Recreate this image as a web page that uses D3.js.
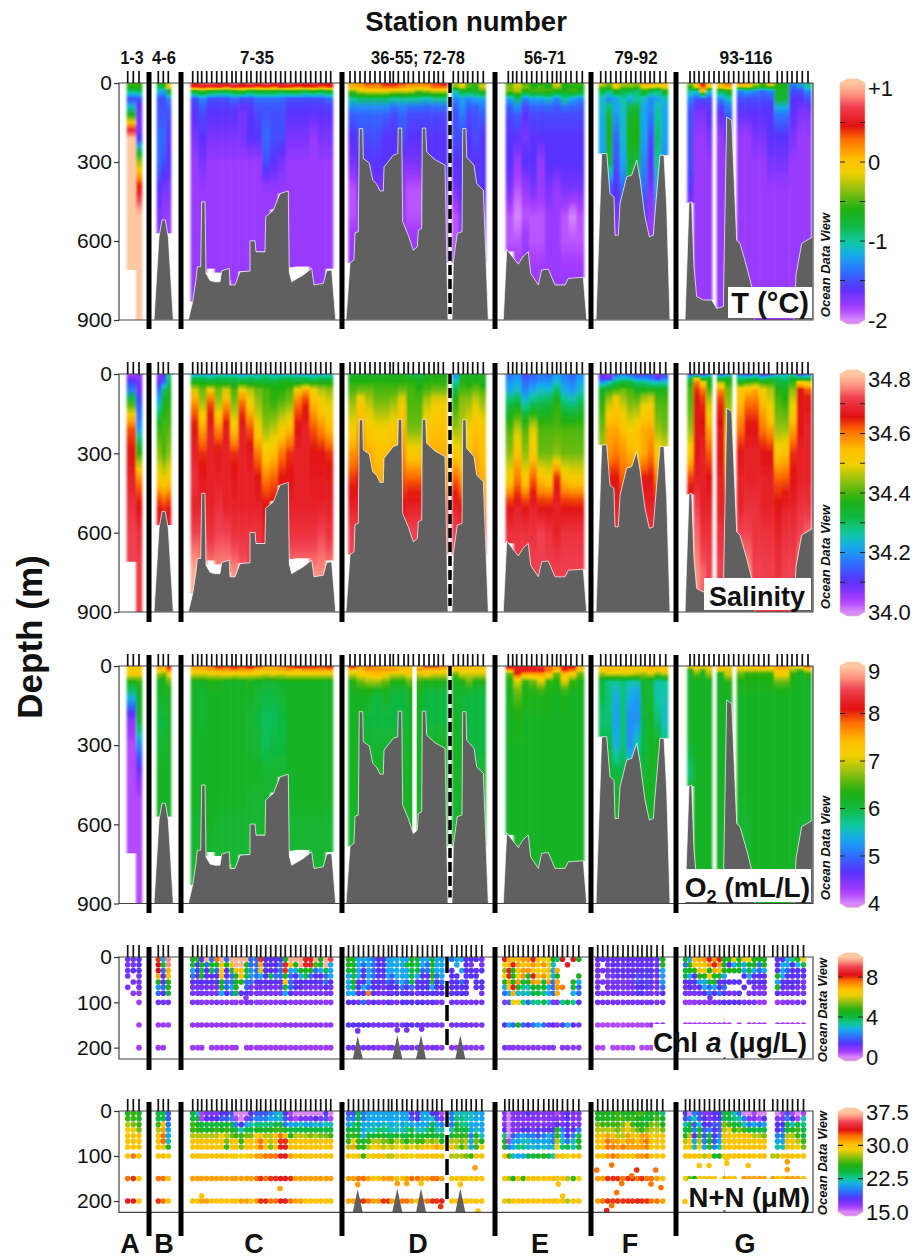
<!DOCTYPE html>
<html>
<head>
<meta charset="utf-8">
<script src="https://cdn.jsdelivr.net/npm/d3@7"></script>
<style>
  html, body { margin: 0; padding: 0; background: #fff; }
  svg { display: block; }
  text { font-family: "Liberation Sans", Arial, sans-serif; fill: #111; }
</style>
</head>
<body>
<svg id="chart"></svg>
<script>
const _ = null; // no sample at this place

// along-track distance of the stations, per section
const stationsA = [8.7,14.3,20];
const stationsB = [39.3,44.3,49.3];
const stationsC = [73.7,78.7,82.7,87.7,92.7,97.7,102.7,107.7,113,117,122.3,127.7,132,137.7,141.7,146.7,151.7,156.7,161.7,166.3,171.7,176.7,181.7,186.7,191.7,196.7,201.7,207,211.7];
const stationsD1 = [231,236,241,246,251,256,261,266,271,274.3,279.3,285,289.3,294.3,300,305,310,315,319.3,324.3];
const stationsD2 = [334.3,339.3,344.3,348.7,353.7,358.7,364.3];
const stationsE = [389.3,393.7,397.7,402.7,407.7,412.7,417.7,422.7,428.3,433.3,437.7,441.7,447,452,457.7,463.3];
const stationsF = [481.7,486.7,491.7,497,501.7,507,512,516.7,521.7,526,531,535.3,541,546.7];
const stationsG = [571,575.3,580,585,590,595,600,605,609.7,614.7,619.7,624.7,629.7,634.7,639.7,645,649.7,658.3,663,668.3,673,678,683.3,689];

const sectionLetters = ['A','B','C','D','E','F','G'];
const letterDist = [11,45,135,299,421,511,626];
const stationLabels = ['1-3','4-6','7-35','36-55; 72-78','56-71','79-92','93-116'];
const stationLabelDist = [13,45,138,299,426,517,627];
const stationLabelWidth = [23,24,34,94,42,43,53];
const separators = [30,62,223,376,472,557];
const dashedDist = 331;

// depth levels of the gridded profile tables (rows of the tables below)
const fieldDepths = [0,15,30,60,100,200,300,400,500,600,750];

// Temperature, tenths of a degree C
const tempA = [[-5,-5],[-6,-6],[-9,-8],[-15,-15],[-10,-17],[10,-17],[10,-3],[10,5],[10,10],[10,10],[10,10]];
const tempB = [[-6,-7,0],[-8,-8,-1],[-11,-12,-6],[-15,-15,-13],[-15,-15,-15],[-14,-14,-16],[-14,-15,-16],[-16,-17,-17],[-17,-18,-18],[-18,-18,-18],[-18,-18,-18]];
const tempC = [
 [5,7,8,6,7,8,6,8,7,8,7,6,8,7,6,7,6,5],
 [4,5,4,5,3,5,4,4,3,4,3,5,4,3,4,4,3,4],
 [-6,-5,-6,-7,-7,-6,-5,-7,-6,-6,-6,-7,-6,-6,-7,-6,-7,-6],
 [-15,-13,-15,-15,-15,-14,-15,-15,-14,-14,-14,-14,-15,-15,-15,-15,-15,-14],
 [-16,-15,-16,-16,-16,-16,-17,-16,-15,-15,-15,-15,-16,-16,-16,-16,-16,-16],
 [-17,-16,-17,-17,-17,-17,-17,-16,-16,-14,-15,-15,-17,-17,-17,-18,-17,-17],
 [-18,-17,-18,-18,-18,-18,-18,-18,-18,-15,-16,-17,-18,-18,-18,-18,-18,-18],
 [-18,-18,-18,-18,-18,-18,-18,-18,-18,-18,-18,-18,-18,-18,-18,-18,-18,-18],
 [-18,-18,-18,-18,-18,-18,-18,-18,-18,-18,-18,-18,-18,-18,-18,-18,-18,-18],
 [-18,-18,-18,-18,-18,-18,-18,-18,-18,-18,-18,-18,-18,-18,-18,-18,-18,-18],
 [-18,-18,-18,-18,-18,-18,-18,-18,-18,-18,-18,-18,-18,-18,-18,-18,-18,-18]];
const tempD1 = [
 [1,2,4,3,5,5,4,3,2,3,4,5],
 [1,1,2,2,3,3,2,1,1,1,3,3],
 [-4,-2,-1,-1,-1,-2,-2,-2,-4,-3,-2,-2],
 [-10,-9,-9,-9,-9,-10,-10,-10,-10,-11,-10,-10],
 [-14,-14,-14,-14,-14,-15,-14,-15,-15,-15,-15,-15],
 [-16,-15,-15,-15,-16,-16,-15,-16,-16,-16,-16,-16],
 [-17,-16,-16,-16,-16,-16,-17,-17,-17,-16,-16,-16],
 [-19,-17,-17,-17,-17,-17,-18,-19,-19,-18,-17,-17],
 [-19,-18,-18,-18,-18,-18,-18,-19,-19,-18,-18,-18],
 [-18,-18,-18,-18,-18,-18,-18,-18,-18,-18,-18,-18],
 [-18,-18,-18,-18,-18,-18,-18,-18,-18,-18,-18,-18]];
const tempD2 = [[-3,0,-5,-5,-3],[-4,-2,-5,-6,-2],[-10,-7,-7,-7,-5],[-13,-12,-13,-12,-12],[-15,-13,-15,-15,-14],[-15,-15,-16,-15,-16],[-16,-16,-16,-16,-16],[-17,-16,-16,-16,-16],[-19,-17,-17,-17,-17],[-19,-18,-18,-18,-18],[-18,-18,-18,-18,-18]];
const tempE = [
 [-5,-2,-5,-6,-6,-6,-1,-6,-5,-5],
 [-4,-2,-4,-6,-5,-6,-3,-6,-6,-6],
 [-4,-3,-6,-5,-5,-5,-6,-6,-5,-6],
 [-12,-9,-13,-12,-12,-11,-13,-10,-12,-13],
 [-15,-14,-16,-15,-15,-15,-15,-15,-15,-15],
 [-16,-16,-17,-16,-16,-16,-16,-16,-16,-16],
 [-16,-18,-16,-16,-18,-16,-16,-16,-16,-16],
 [-17,-19,-18,-17,-18,-17,-18,-17,-17,-17],
 [-19,-20,-19,-19,-19,-18,-18,-19,-20,-19],
 [-19,-19,-18,-19,-19,-18,-18,-19,-19,-19],
 [-18,-18,-18,-18,-18,-18,-18,-18,-18,-18]];
const tempF = [
 [-1,-4,0,-2,-3,-3,2,2,-1,0],
 [-4,-5,-1,-4,-4,-5,-1,-1,-2,-1],
 [-8,-9,-6,-8,-8,-9,-6,-8,-9,-6],
 [-11,-13,-12,-10,-12,-10,-11,-13,-12,-11],
 [-11,-8,-12,-11,-7,-7,-12,-13,-10,-12],
 [-12,-6,-14,-11,-6,-6,-12,-15,-9,-12],
 [-12,-8,-15,-12,-7,-8,-13,-16,-10,-13],
 [-12,-15,-16,-14,-8,-11,-14,-17,-12,-13],
 [-12,-17,-17,-15,-10,-12,-16,-18,-14,-13],
 [-12,-18,-18,-16,-12,-14,-17,-18,-15,-14],
 [-12,-18,-18,-16,-12,-14,-17,-18,-15,-14]];
const tempG1 = [[-3,1,6,0],[-6,-1,3,-1],[-10,-10,0,-10],[-13,-15,-15,-15],[-15,-17,-17,-16],[-15,-18,-18,-17],[-15,-18,-18,-18],[-16,-18,-18,-18],[-18,-18,-18,-18],[-18,-18,-18,-18],[-18,-18,-18,-18]];
const tempG2 = [[1,3],[0,1],[-8,-6],[-13,-11],[-16,-14],[-18,-16],[-18,-18],[-18,-18],[-18,-18],[-18,-18],[-18,-18]];
const tempG3 = [
 [3,2,-2,-5,1,-6,-6,-13,-12,-9],
 [-3,-2,-5,-6,-5,-6,-6,-14,-13,-10],
 [-13,-12,-13,-14,-13,-7,-7,-15,-15,-13],
 [-15,-15,-15,-15,-15,-7,-7,-16,-16,-15],
 [-16,-16,-16,-16,-16,-13,-13,-16,-17,-17],
 [-18,-18,-17,-17,-16,-16,-16,-17,-18,-18],
 [-18,-18,-18,-18,-17,-17,-17,-18,-18,-18],
 [-18,-18,-18,-18,-18,-18,-18,-18,-18,-18],
 [-18,-18,-18,-18,-18,-18,-18,-18,-18,-18],
 [-18,-18,-18,-18,-18,-18,-18,-18,-18,-18],
 [-18,-18,-18,-18,-18,-18,-18,-18,-18,-18]];

// Salinity, hundredths above 34
const salA = [[3,8],[8,6],[12,8],[18,8],[36,14],[62,20],[66,38],[68,60],[70,66],[72,70],[72,72]];
const salB = [[6,10,28],[8,12,28],[10,16,30],[16,30,34],[22,36,38],[38,40,40],[44,40,44],[52,50,52],[66,64,66],[68,68,68],[68,68,68]];
const salC = [
 [20,22,20,24,22,24,20,22,24,26,22,22,24,22,20,22,22,24],
 [30,30,28,30,30,30,28,30,28,30,28,30,30,30,30,28,30,30],
 [36,36,34,36,34,34,36,34,34,34,34,36,36,34,36,36,36,36],
 [48,42,50,42,48,40,50,46,42,40,38,38,40,50,56,50,46,44],
 [58,44,62,44,56,42,60,50,44,40,38,40,42,60,64,54,50,48],
 [66,56,68,58,67,52,68,62,50,44,46,50,54,66,68,62,58,54],
 [68,64,68,67,68,64,68,67,60,52,54,60,64,68,68,66,66,64],
 [70,67,68,68,68,67,68,68,66,60,62,66,66,68,68,67,67,67],
 [68,68,68,70,68,68,68,68,68,66,66,70,68,68,68,68,68,68],
 [72,72,70,72,72,70,70,70,70,68,68,72,70,70,70,70,72,70],
 [78,76,76,76,76,76,74,72,72,70,70,72,76,76,76,76,76,76]];
const salD1 = [
 [32,34,34,34,34,36,36,30,30,36,36,36],
 [36,36,36,36,36,36,38,36,34,36,38,38],
 [38,38,38,38,38,38,38,38,36,38,38,38],
 [40,42,42,40,40,40,42,40,38,40,42,42],
 [44,52,46,42,42,44,50,40,40,46,50,50],
 [50,56,52,50,50,52,55,42,42,52,54,54],
 [58,60,56,54,54,56,58,52,52,56,56,56],
 [64,66,60,56,56,60,62,62,62,60,60,60],
 [68,68,66,62,62,64,66,68,68,64,64,64],
 [72,70,68,66,66,68,68,72,72,68,68,68],
 [72,72,72,70,70,70,70,72,72,70,70,70]];
const salD2 = [[20,34,34,34,34],[22,36,36,36,36],[26,38,36,38,36],[32,40,40,42,40],[38,44,44,48,44],[44,46,50,54,52],[52,50,54,56,54],[62,58,56,58,56],[68,66,60,62,60],[72,70,66,66,66],[74,72,70,70,70]];
const salE = [
 [16,20,12,15,18,15,20,18,16,20],
 [18,20,14,16,18,18,22,18,16,20],
 [20,22,16,18,20,20,24,20,18,22],
 [22,24,18,22,24,24,30,22,20,24],
 [30,32,24,28,30,32,38,28,26,30],
 [40,46,40,48,40,40,40,40,40,40],
 [44,54,44,52,42,42,44,42,42,42],
 [52,60,52,62,54,52,66,54,52,52],
 [66,68,66,68,66,66,68,66,66,66],
 [70,70,70,70,72,70,68,70,70,70],
 [72,72,72,72,72,72,72,72,72,72]];
const salF = [
 [8,6,14,18,14,12,12,14,6,12],
 [10,8,22,24,22,18,18,16,10,16],
 [20,24,30,32,32,28,28,24,24,24],
 [34,38,40,42,40,36,36,38,36,36],
 [38,46,52,46,42,42,48,50,40,40],
 [42,56,56,54,50,52,56,56,44,42],
 [46,58,60,58,56,54,56,60,52,50],
 [50,66,66,62,60,58,66,66,60,56],
 [60,68,68,66,64,64,68,68,66,62],
 [68,70,70,70,68,68,70,70,70,68],
 [70,72,72,72,70,70,72,72,72,70]];
const salG1 = [[10,14,10,16],[30,48,30,34],[36,60,50,36],[40,64,60,40],[40,66,64,46],[44,66,66,56],[52,66,68,62],[64,68,68,66],[68,72,68,68],[70,74,70,70],[72,76,74,72]];
const salG2 = [[14,18],[30,34],[44,38],[58,42],[64,44],[66,48],[66,52],[68,60],[68,66],[70,68],[72,70]];
const salG3 = [
 [14,12,18,8,12,22,22,26,8,16],
 [28,28,30,26,30,30,28,32,30,30],
 [36,38,40,38,38,32,32,38,50,48],
 [52,54,56,50,46,38,36,44,66,62],
 [54,60,60,54,48,40,38,48,66,66],
 [60,66,66,60,56,44,44,56,66,68],
 [66,68,68,66,66,52,54,64,68,68],
 [68,68,68,68,68,62,62,66,68,68],
 [68,70,70,68,68,66,68,68,70,70],
 [72,72,70,70,70,68,70,70,72,74],
 [76,76,72,72,72,70,72,72,76,78]];

// Oxygen, tenths of a mL/L
const oxyA = [[72,72],[72,72],[72,72],[63,64],[57,62],[44,62],[42,52],[42,45],[42,42],[42,42],[42,42]];
const oxyB = [[76,74,82],[74,72,78],[68,66,72],[62,62,66],[62,62,62],[60,60,62],[61,61,62],[62,62,62],[62,62,62],[62,62,62],[62,62,62]];
const oxyC = [
 [76,76,78,82,80,82,80,84,80,76,76,78,80,84,82,82,80,82],
 [74,74,75,76,76,77,76,76,74,74,74,75,76,74,76,76,76,76],
 [70,70,71,71,72,71,72,71,71,70,71,70,71,71,71,71,71,71],
 [62,62,63,63,62,62,62,63,62,61,61,62,62,62,62,62,62,62],
 [62,61,62,62,62,62,62,62,61,60,60,61,62,62,62,62,62,62],
 [62,61,62,62,62,62,62,61,60,59,59,60,62,62,62,62,62,62],
 [62,62,62,62,62,62,62,61,61,59,60,60,62,62,62,62,62,62],
 [62,62,62,62,62,62,62,62,62,61,61,61,62,62,62,62,62,62],
 [62,62,62,62,62,62,62,61,61,61,61,62,62,62,62,62,62,62],
 [61,61,62,61,61,61,61,61,61,62,62,62,61,61,61,61,61,61],
 [61,61,61,61,61,61,61,61,61,62,62,62,61,61,61,61,61,61]];
const oxyD1 = [
 [82,76,78,76,74,74,74,74,74,80,80,76],
 [74,74,76,76,76,76,74,74,76,74,74,74],
 [70,72,73,74,73,70,70,72,70,72,70,70],
 [63,66,68,68,66,63,63,66,64,63,63,63],
 [62,62,62,60,62,60,60,62,62,60,60,60],
 [62,62,60,60,60,60,60,62,62,60,60,60],
 [62,62,61,61,61,61,61,62,62,62,62,62],
 [62,62,62,62,62,62,62,62,62,62,62,62],
 [62,62,62,62,62,62,62,62,62,62,62,62],
 [61,62,62,62,62,62,62,62,62,62,62,62],
 [61,62,62,62,62,62,62,62,62,62,62,62]];
const oxyD2 = [[74,74,74,74,74],[72,72,72,72,72],[66,70,70,70,70],[62,63,66,63,63],[61,61,60,60,60],[62,61,60,60,60],[62,62,60,60,60],[62,62,61,61,61],[61,62,62,62,62],[61,62,62,62,62],[61,62,62,62,62]];
const oxyE = [
 [84,82,82,82,84,78,76,82,82,74],
 [76,82,82,82,82,78,74,80,78,72],
 [66,80,76,76,76,74,66,74,72,66],
 [63,70,64,66,70,64,63,70,64,63],
 [62,66,63,63,63,63,62,63,62,62],
 [62,63,62,62,62,62,62,62,62,62],
 [62,62,62,62,62,62,62,62,62,62],
 [62,62,62,62,62,62,62,62,62,62],
 [62,62,62,62,62,62,62,62,62,62],
 [62,62,62,62,62,62,62,62,62,62],
 [62,62,62,62,62,62,62,62,62,62]];
const oxyF = [
 [73,74,74,74,74,72,72,76,74,72],
 [72,73,73,72,72,71,72,73,72,73],
 [68,70,70,70,70,69,68,70,67,69],
 [60,57,57,58,56,56,62,60,56,57],
 [60,58,54,58,54,53,62,61,56,56],
 [58,58,53,58,52,52,60,62,58,55],
 [60,60,54,58,52,56,60,62,62,58],
 [60,62,60,60,58,60,61,62,62,60],
 [60,62,62,62,62,62,62,62,62,60],
 [60,62,62,62,62,62,62,62,62,60],
 [60,62,62,62,62,62,62,62,62,60]];
const oxyG1 = [[72,74,72,74],[64,70,66,70],[62,66,62,68],[62,62,62,62],[62,62,62,62],[62,62,62,62],[61,62,62,62],[58,62,62,62],[62,62,62,62],[62,62,62,62],[62,62,62,62]];
const oxyG2 = [[74,72],[72,70],[62,70],[62,64],[62,62],[62,62],[62,62],[62,62],[62,62],[62,62],[62,62]];
const oxyG3 = [
 [74,72,74,78,74,76,76,72,74,80],
 [70,70,70,70,70,74,74,68,66,70],
 [66,64,64,64,64,72,72,64,62,64],
 [63,63,63,63,63,66,66,63,62,62],
 [62,62,62,62,62,62,62,62,62,62],
 [62,62,62,62,62,62,62,62,62,62],
 [62,62,62,62,62,62,62,62,62,62],
 [62,62,62,62,62,62,62,62,62,62],
 [62,62,62,62,62,62,62,62,62,62],
 [61,61,62,62,62,62,62,62,61,61],
 [61,61,62,62,62,62,62,62,61,61]];

// deepest sample of each gridded column, m
const bottomA = [710,900];
const bottomB = [571,571,571];
const bottomC = [830,720,705,720,750,767,715,714,640,640,480,420,700,697,697,767,767,705];
const bottomD1 = [683,683,683,683,683,683,683,640,635,683,683,683];
const bottomD2 = [683,683,683,683,683];
const bottomE = [640,770,770,770,770,770,770,770,770,740];
const bottomF = [268,590,590,590,590,590,590,590,590,274];
const bottomG1 = [455,824,824,824];
const bottomG2 = [856,856];
const bottomG3 = [900,900,900,900,900,900,900,900,900,900];

// seabed: [distance, depth]
const bathyB = [[35,900],[40,584],[43,520],[46.3,520],[49.3,584],[54.3,900]];
const bathyC = [[69.3,900],[73.7,830],[77,748],[78.3,698],[81.7,698],[82.7,451],[86,451],[87,723],[91,750],[96,755],[101,755],[102.7,713],[110.3,704],[111,767],[116,767],[121,717],[131,714],[131,599],[136,599],[137,641],[146,641],[146.7,508],[154.3,483],[161,420],[169.3,410],[170.3,719],[172.7,755],[184.3,729],[192.7,704],[195,767],[204.3,761],[207.7,713],[212.7,710],[216.7,900]];
const bathyD1 = [[227,900],[231,683],[235,672],[236,569],[239.3,565],[240.3,173],[243.7,173],[244.3,287],[250.3,303],[253.7,369],[257.7,384],[261,410],[264.3,410],[265,319],[274.3,274],[278.7,268],[279.3,171],[282.7,171],[283.7,527],[289.3,578],[294.3,635],[298.3,622],[299.3,559],[302.7,552],[303.3,171],[306.7,171],[307.7,262],[316,291],[326,312],[329,900]];
const bathyD2 = [[333,900],[334.3,679],[338.3,571],[343,565],[343.7,173],[347,173],[347.7,281],[355,312],[357.7,382],[364.3,407],[369.3,900]];
const bathyE = [[384.3,900],[387.7,632],[396,672],[399.3,688],[404.3,657],[409.3,641],[411.7,723],[419.3,767],[422.7,710],[429.3,707],[436,767],[446,767],[449.3,742],[464.3,738],[467.7,900]];
const bathyF = [[477,900],[482.7,268],[487.7,268],[491,420],[495,433],[496,578],[499.3,578],[501,458],[507.7,356],[512.7,350],[517.7,293],[521,363],[526,508],[530.3,584],[534.3,578],[536,495],[541,274],[545,274],[547.7,470],[551,900]];
const bathyG1 = [[566,900],[570,455],[572.7,451],[575,698],[577.7,811],[584.3,824],[592.7,824],[597.7,856],[604.3,849],[607.7,129],[612.7,142],[617.7,597],[621,609],[627.7,698],[632.7,773],[636,900]];
const bathyG2 = [[675,900],[677,729],[682.7,609],[693.7,584],[693.7,900]];

// shallow panels: seabed peaks reaching into the 0-225 m window [distance, depth]
const peakDist = [238.7,278.3,302,341.3];
const peakDepth = [174,172,172,172];
const spikeG = [[604.5,225],[605,125],[606.5,225]];

const oxyGaps = [[293.3,297.7]];

// bottle depths of the discrete panels (rows of the tables below)
const bottleDepths = [5,17,30,42,55,67,80,100,150,200];

// Chl a, tenths of a microgram per litre
const chlA = [[10,10,13],[10,10,13],[10,13,13],[10,_,10],[_,10,10],[10,_,10],[_,8,8],[_,_,6],[_,_,5],[_,_,5]];
const chlB = [[80,27,95],[82,40,95],[82,20,70],[70,13,68],[45,13,45],[25,20,45],[20,13,40],[10,10,10],[6,6,6],[6,6,_]];
const chlC = [
 [45,45,13,98,20,75,98,20,98,98,98,98,20,20,80,13,13,13,13,45,98,98,98,85,85,98,45,98,90],
 [40,13,45,20,45,40,68,45,60,98,98,45,20,20,70,13,13,13,20,85,68,45,98,85,85,50,40,98,27],
 [27,13,40,13,40,20,65,13,40,68,68,40,25,20,60,13,13,13,20,80,27,27,45,45,45,20,27,40,27],
 [20,13,45,13,13,13,68,13,20,45,68,40,25,20,27,13,40,20,20,45,20,13,27,40,20,13,13,20,27],
 [13,13,13,13,13,13,45,20,20,45,45,20,20,13,13,13,13,13,13,68,20,13,13,13,13,13,13,20,13],
 [10,10,10,10,10,10,45,20,27,45,_,20,10,10,10,10,10,10,10,40,20,13,13,10,10,10,10,13,10],
 [10,10,10,10,10,10,27,13,20,40,13,13,10,10,10,10,10,10,10,27,13,10,10,10,10,10,10,10,10],
 [10,10,8,8,8,10,8,8,8,8,8,10,10,8,8,8,8,8,8,10,8,8,8,8,8,8,8,8,8],
 [7,7,7,7,7,7,7,7,6,6,6,6,6,6,6,6,5,5,5,8,8,7,7,7,7,8,7,7,7],
 [6,6,6,_,6,6,6,6,6,6,_,6,6,6,6,6,6,6,6,6,6,6,6,6,6,6,6,6,6]];
const chlD1 = [
 [45,45,27,27,27,20,13,13,27,27,27,27,27,45,40,27,27,45,27,27],
 [45,45,27,20,27,20,13,13,27,27,27,27,40,45,40,27,20,45,27,27],
 [40,45,27,13,27,20,13,13,27,27,27,27,27,40,40,20,20,40,27,27],
 [27,40,27,13,27,20,13,13,27,20,27,27,27,40,27,13,13,45,20,27],
 [27,45,13,13,27,13,13,13,20,13,20,27,20,40,13,13,13,40,13,20],
 [27,40,13,27,20,13,13,10,13,13,13,20,13,20,13,13,13,27,13,13],
 [27,27,13,13,75,13,10,10,13,10,13,13,13,13,10,13,13,13,13,13],
 [13,13,10,20,10,13,10,10,13,10,10,13,13,13,13,13,10,13,10,10],
 [13,13,13,13,13,10,10,10,10,10,10,10,13,13,13,10,10,10,10,10],
 [10,10,10,10,10,10,8,8,8,10,10,10,10,10,10,8,8,10,10,8]];
const chlD2 = [[20,27,27,13,13,13,10],[_,27,_,13,10,_,10],[13,_,27,13,13,13,13],[13,13,_,13,13,13,_],[13,13,20,13,_,13,13],[13,13,13,13,_,13,13],[13,13,13,13,_,_,10],[10,10,10,10,10,10,10],[10,10,10,10,10,10,10],[8,8,8,8,8,8,8]];
const chlE = [
 [84,70,68,68,72,72,84,68,62,62,45,36,84,_,84,45],
 [62,68,84,70,68,68,72,68,72,62,30,_,_,84,_,_],
 [55,84,45,68,72,72,68,62,64,68,27,70,_,_,_,_],
 [62,84,45,62,72,40,84,68,72,62,27,45,_,_,_,45],
 [45,70,45,72,40,45,72,70,40,72,20,70,_,_,45,27],
 [27,62,84,45,35,30,45,40,45,27,20,72,75,_,40,20],
 [20,27,70,30,30,30,40,40,35,27,20,70,_,_,27,20],
 [8,20,62,62,35,20,35,35,40,30,10,10,35,40,35,13],
 [13,27,20,45,20,13,20,27,20,10,13,8,15,27,13,10],
 [10,8,8,8,8,8,8,8,8,8,8,_,8,8,8,8]];
const chlF = [
 [12,12,12,12,12,12,12,12,12,12,12,12,12,45],
 [10,_,10,12,12,12,12,12,12,12,12,12,12,45],
 [10,10,10,12,12,12,12,12,12,12,15,12,12,27],
 [10,_,10,10,12,12,12,12,17,12,15,12,12,25],
 [10,10,10,10,10,10,10,10,17,13,15,12,12,25],
 [10,_,10,10,10,10,10,10,13,13,15,10,10,20],
 [10,10,10,10,10,10,10,10,13,13,10,10,10,13],
 [10,10,10,10,10,10,10,10,10,10,10,10,10,10],
 [4,4,4,4,4,4,4,4,4,4,4,6,8,8],
 [4,4,_,4,4,4,4,4,_,4,4,4,_,_]];
const chlG = [
 [45,27,68,70,72,84,72,84,45,45,62,45,68,62,45,45,45,_,13,13,27,35,45,62],
 [20,45,68,62,68,72,84,72,45,13,27,40,27,45,45,20,45,_,13,27,27,13,27,40],
 [40,45,45,68,62,45,70,68,45,45,45,45,27,40,27,20,27,_,13,27,20,13,13,13],
 [40,27,13,45,45,62,45,45,27,_,_,_,13,27,13,13,13,_,45,27,13,13,13,13],
 [13,13,13,27,27,40,45,13,13,13,13,13,_,13,13,13,13,_,27,13,13,13,13,10],
 [10,13,10,13,27,20,27,13,20,_,_,_,13,_,10,10,10,_,45,13,10,13,10,10],
 [10,10,10,10,13,20,13,20,13,10,10,13,_,10,10,10,10,_,13,10,10,10,10,10],
 [6,6,8,8,8,8,10,10,13,13,13,13,10,10,10,6,6,_,6,8,8,8,10,10],
 [5,5,5,5,5,5,5,5,5,5,_,5,_,5,5,5,5,_,5,5,5,5,5,5],
 [_,_,_,_,_,_,_,_,_,_,_,_,_,_,_,_,_,_,_,_,_,_,_,_]];
const chlExtra = [[238.7,163,10],[278.3,161,10],[287.7,161,10],[302.7,159,10],[127,90,8],[591,90,10]];

// Nitrate + nitrite, micromolar
const nnA = [[25,26,25],[26,26,25],[28,27,26],[29,29,27],[30,30,30],[30,30,30],[30,30,30],[30,32,30],[32,33,30],[34,34,30]];
const nnB = [[24,24,19],[24,24,19],[26,30,20],[28,31,21],[30,32,21],[30,32,22],[30,30,25],[30,30,29],[32,32,30],[33,32,30]];
const nnC = [
 [24,22,16,17,17,17,18,18,19,15,15,15,18,19,19,19,20,21,22,18,16,15,15,15,15,15,15,18,15],
 [24,24,16,18,18,18,19,19,20,16,15,17,19,20,20,20,21,21,22,19,17,16,17,17,17,18,17,19,16],
 [26,25,24,24,24,24,24,24,24,20,18,21,22,23,23,23,23,24,24,20,21,21,22,21,21,22,21,22,22],
 [26,26,25,25,25,26,25,26,25,24,22,24,24,25,25,25,25,26,26,25,24,24,24,24,24,24,24,24,24],
 [28,28,28,28,28,28,29,28,27,26,26,27,27,29,30,28,28,30,32,30,25,28,28,28,27,28,27,27,26],
 [30,30,30,30,30,30,30,27,30,30,26,30,30,30,32,30,28,30,33,33,30,30,30,30,30,30,30,30,30],
 [30,30,30,30,30,30,30,26,30,30,27,30,30,30,32,30,27,30,34,34,30,30,30,30,30,30,30,30,30],
 [30,30,30,30,30,30,30,30,30,29,29,29,30,31,31,32,32,32,34,34,31,30,30,30,30,30,30,30,30],
 [31,31,31,31,31,31,31,31,31,31,31,31,31,32,33,32,33,33,34,34,33,31,31,31,31,31,31,31,31],
 [30,30,31,31,30,30,30,30,30,30,31,31,30,31,33,33,32,32,34,34,32,31,31,30,30,30,30,30,30]];
const nnD1 = [
 [19,19,24,20,21,21,21,21,21,21,21,21,21,18,18,21,21,18,18,16],
 [20,20,24,20,21,21,21,21,21,21,21,21,21,19,18,21,21,22,19,17],
 [21,23,24,21,21,22,21,22,22,21,22,21,22,21,21,21,21,24,21,20],
 [24,24,24,21,22,22,23,23,23,22,22,22,23,24,22,22,23,25,22,22],
 [25,26,25,21,25,24,25,25,24,24,25,24,24,25,25,24,25,25,24,24],
 [26,29,26,24,26,28,28,27,27,26,28,27,25,27,26,26,28,27,28,25],
 [28,31,26,25,28,29,30,28,29,28,29,29,28,29,28,30,30,30,31,30],
 [30,29,30,26,29,30,30,30,28,28,29,30,29,29,30,30,30,30,30,30],
 [31,31,32,32,31,30,30,31,31,31,30,30,31,32,32,31,31,32,32,31],
 [31,31,33,33,32,31,31,33,33,31,31,32,32,31,30,31,32,33,33,34]];
const nnD2 = [[20,22,22,22,22,21,21],[20,23,23,22,22,21,21],[20,24,23,23,21,21,21],[22,25,24,24,21,22,21],[24,26,25,26,20,25,22],[28,28,27,28,21,27,25],[30,28,26,28,21,26,29],[28,28,28,27,26,30,30],[30,30,30,30,30,30,30],[30,30,30,30,30,30,30]];
const nnE = [
 [17,15,17,17,17,18,17,17,17,17,17,16,17,18,17,17],
 [17,15,17,17,17,17,17,17,17,17,17,17,17,18,17,17],
 [17,15,17,17,17,17,17,17,17,17,17,18,17,18,17,17],
 [18,15,17,17,18,18,17,18,18,18,18,25,20,18,18,20],
 [23,15,19,20,21,20,20,19,20,21,20,26,21,18,20,24],
 [25,16,21,21,22,22,21,21,21,21,20,28,22,20,22,25],
 [25,20,21,23,23,21,22,21,22,21,22,29,23,24,22,25],
 [30,26,22,21,21,24,24,25,25,24,22,30,30,29,30,30],
 [30,28,25,30,26,30,30,30,30,30,30,30,30,28,26,29],
 [30,28,30,30,30,30,30,30,30,30,30,30,30,28,30,30]];
const nnF = [
 [25,25,25,25,26,25,25,25,26,26,25,25,25,23],
 [25,25,25,25,26,26,25,26,25,25,24,25,26,25],
 [27,26,26,26,26,27,29,26,25,25,25,27,27,25],
 [28,28,28,28,27,28,30,28,27,26,27,28,28,27],
 [30,30,31,30,28,28,31,30,29,31,31,29,30,30],
 [30,30,32,31,31,30,31,31,30,31,32,30,30,30],
 [30,30,32,32,31,32,31,31,31,31,32,29,30,30],
 [30,30,31,32,31,30,30,30,31,31,32,30,30,30],
 [31,31,33,33,33,32,33,33,32,33,32,32,31,30],
 [31,32,33,33,33,33,33,33,34,33,33,32,32,31]];
const nnG = [
 [18,15,20,19,17,17,18,18,24,24,22,20,15,15,16,15,15,_,15,16,19,16,15,16],
 [19,20,22,19,18,17,18,18,24,24,23,22,20,17,17,16,18,_,17,17,20,18,16,22],
 [22,24,19,22,18,18,19,19,27,26,24,24,22,20,21,20,21,_,18,18,24,22,24,23],
 [24,25,20,25,19,20,18,19,28,29,26,27,26,24,24,24,24,_,18,19,25,25,26,24],
 [25,28,18,26,19,24,18,20,30,30,29,30,30,30,28,28,27,_,20,20,28,28,26,24],
 [28,30,21,28,20,25,19,21,30,30,30,30,30,30,30,30,30,_,21,21,30,30,28,26],
 [29,30,22,29,21,26,20,22,30,30,30,30,30,30,30,30,30,_,22,22,30,30,29,27],
 [30,30,30,30,28,30,24,25,30,30,30,30,30,30,30,30,30,28,28,30,30,30,30,30],
 [29,27,25,30,30,30,30,_,30,30,30,_,31,31,31,31,31,31,30,30,31,31,31,30],
 [_,_,_,_,_,_,_,_,_,_,_,_,_,_,_,_,_,_,_,_,_,_,_,_]];
const nnExtra = [[82.7,189,30],[161,172,31],[356,126,31],[238.7,163,31],[278.3,161,31],[287.7,161,31],[302,161,30],[341.3,163,30],[321.7,212,33],[359,222,30],[439.3,162,30],[443.7,189,30],[477.7,131,32],[492.7,120,32],[517.7,131,33],[536.7,131,32],[502.7,161,32],[512.7,144,32],[532,162,32],[542,170,32],[497.7,181,32],[487.7,221,34],[492.7,210,32],[580.3,121,30],[590,121,30],[629.3,121,30],[668.3,113,31],[668.3,130,31],[566,201,30],[607.7,105,30],[607.7,116,30]];

// Colour bar stops, position 0..1 along the ODV palette
const paletteAt = [0,0.05,0.13,0.2,0.27,0.33,0.4,0.47,0.55,0.62,0.68,0.76,0.82,0.9,0.95,1];
const paletteColors = ['#d988ff','#a83cff','#5a30ff','#2f6cff','#18a8f0','#10c8a0','#10b840','#20b010','#90c010','#f0d000','#ffc000','#ff7000','#e01010','#f04050','#ff9080','#ffc8a0'];
const palette = d3.scaleLinear().domain(paletteAt).range(paletteColors).clamp(true);

const width = 918, height = 1258;
const svg = d3.select('#chart').attr('width', width).attr('height', height)
  .attr('viewBox', `0 0 ${width} ${height}`);
const defs = svg.append('defs');
defs.append('filter').attr('id', 'soft').attr('x', '-2%').attr('width', '104%')
  .append('feGaussianBlur').attr('stdDeviation', '1.3 0.4');
defs.append('filter').attr('id', 'softDots')
  .append('feGaussianBlur').attr('stdDeviation', '0.35');

const x = d3.scaleLinear().domain([0, 694]).range([119, 813]);

const fieldSections = [
  {start: 7.7, end: 23.3, edges: [7.7,17,23.3], bottom: bottomA, temp: tempA, sal: salA, oxy: oxyA},
  {start: 37.7, end: 52.3, bottom: bottomB, temp: tempB, sal: salB, oxy: oxyB},
  {start: 71.7, end: 214.3, bottom: bottomC, temp: tempC, sal: salC, oxy: oxyC},
  {start: 229.3, end: 328.7, bottom: bottomD1, temp: tempD1, sal: salD1, oxy: oxyD1},
  {start: 333, end: 367, bottom: bottomD2, temp: tempD2, sal: salD2, oxy: oxyD2},
  {start: 386.7, end: 465.3, bottom: bottomE, temp: tempE, sal: salE, oxy: oxyE},
  {start: 479.7, end: 549.3, bottom: bottomF, temp: tempF, sal: salF, oxy: oxyF},
  {start: 568.3, end: 593.3, bottom: bottomG1, temp: tempG1, sal: salG1, oxy: oxyG1},
  {start: 597.7, end: 613.3, bottom: bottomG2, temp: tempG2, sal: salG2, oxy: oxyG2},
  {start: 617.7, end: 692.7, bottom: bottomG3, temp: tempG3, sal: salG3, oxy: oxyG3}
];
const bathySections = [bathyB, bathyC, bathyD1, bathyD2, bathyE, bathyF, bathyG1, bathyG2];

const dotSections = [
  {stations: stationsA, shift: 0, chl: chlA, nn: nnA},
  {stations: stationsB, shift: 0, chl: chlB, nn: nnB},
  {stations: stationsC, shift: 0, chl: chlC, nn: nnC},
  {stations: stationsD1, shift: -1.5, chl: chlD1, nn: nnD1},
  {stations: stationsD2, shift: -1.5, chl: chlD2, nn: nnD2},
  {stations: stationsE, shift: -3.5, chl: chlE, nn: nnE},
  {stations: stationsF, shift: -3, chl: chlF, nn: nnF},
  {stations: stationsG, shift: -4.5, chl: chlG, nn: nnG}
];

// panel geometry
const fieldPanels = [
  {key: 'temp', top: 83, bottom: 320, barTop: 83, barBottom: 320, sepTop: 72, sepBottom: 329, domain: [-20,10], ovx: 825, ovy: 265,
   barMin: -2, barMax: 1, barTicks: [-1.5,-1,-0.5,0,0.5], labelVals: [1,0,-1,-2], labelText: ['+1','0','-1','-2'],
   box: [728,287,812,318]},
  {key: 'sal', top: 374, bottom: 612, barTop: 374, barBottom: 612, sepTop: 363, sepBottom: 622, domain: [0,80], ovx: 825, ovy: 557,
   barMin: 34, barMax: 34.8, barTicks: [34.1,34.2,34.3,34.4,34.5,34.6,34.7], labelVals: [34.8,34.6,34.4,34.2,34], labelText: ['34.8','34.6','34.4','34.2','34.0'],
   box: [704,578,811,610]},
  {key: 'oxy', top: 666, bottom: 903.5, barTop: 666, barBottom: 903.5, sepTop: 655, sepBottom: 913, domain: [40,90], ovx: 825, ovy: 848,
   barMin: 4, barMax: 9, barTicks: [5,6,7,8], labelVals: [9,8,7,6,5,4], labelText: ['9','8','7','6','5','4'],
   box: [685,869,811,902]}
];
const dotPanels = [
  {key: 'chl', top: 957, bottom: 1059, sepTop: 947, sepBottom: 1070, domain: [0,100], extra: chlExtra, ovx: 822, ovy: 1010,
   barTop: 957, barBottom: 1057, barMin: 0, barMax: 10, barTicks: [4,8], labelVals: [8,4,0], labelText: ['8','4','0'],
   box: [653,1024,812,1057]},
  {key: 'nn', top: 1111, bottom: 1212.3, sepTop: 1102, sepBottom: 1236, domain: [15,37.5], extra: nnExtra, ovx: 822, ovy: 1163,
   barTop: 1112, barBottom: 1212, barMin: 15, barMax: 37.5, barTicks: [22.5,30], labelVals: [37.5,30,22.5,15], labelText: ['37.5','30.0','22.5','15.0'],
   box: [688,1179,812,1210]}
];

const allStations = [].concat(stationsA, stationsB, stationsC, stationsD1, stationsD2, stationsE, stationsF, stationsG);
const line = d3.line().x(d => d[0]).y(d => d[1]);

function drawAxis(g, y, ticks) {
  g.append('g').attr('transform', 'translate(119,0)')
    .call(d3.axisLeft(y).tickValues(ticks).tickSize(5).tickPadding(2).tickFormat(d3.format('d')))
    .call(a => a.select('.domain').remove())
    .call(a => a.selectAll('line').attr('stroke', '#333').attr('stroke-width', 1.2))
    .call(a => a.selectAll('text').attr('font-size', 21).attr('fill', '#111')
      .style('font-family', '"Liberation Sans", sans-serif'));
}

function drawFrame(g, p) {
  g.append('path').attr('fill', 'none').attr('stroke', '#444').attr('stroke-width', 1.2)
    .attr('d', `M119,${p.top}H813V${p.bottom}H119Z`);
}

function drawSeparators(g, p, dashX) {
  g.selectAll('.sep').data(separators).join('line').attr('class', 'sep')
    .attr('x1', d => x(d)).attr('x2', d => x(d))
    .attr('y1', p.sepTop).attr('y2', p.sepBottom)
    .attr('stroke', '#000').attr('stroke-width', 5);
  g.append('line').attr('x1', x(dashX)).attr('x2', x(dashX))
    .attr('y1', p.top).attr('y2', p.bottom - 6)
    .attr('stroke', '#000').attr('stroke-width', 3.5).attr('stroke-dasharray', p.dash || '10 4');
}

function drawStationTicks(g, p, positions) {
  g.selectAll('.stick').data(positions).join('line').attr('class', 'stick')
    .attr('x1', d => x(d)).attr('x2', d => x(d))
    .attr('y1', p.top - 12).attr('y2', p.top)
    .attr('stroke', '#111').attr('stroke-width', 1.7);
}

function drawOceanDataView(g, p) {
  g.append('text')
    .attr('transform', `translate(${p.ovx},${p.ovy}) rotate(-90)`)
    .attr('text-anchor', 'middle').attr('dominant-baseline', 'central')
    .attr('font-size', 13).attr('font-weight', 700).attr('font-style', 'italic')
    .text('Ocean Data View');
}

function drawColorBar(g, p) {
  const x0 = p.key === 'chl' || p.key === 'nn' ? 838 : 840;
  const x1 = x0 + 25;
  const bar = d3.scaleLinear().domain([p.barMin, p.barMax]).range([p.barBottom, p.barTop]);
  const id = `bar-${p.key}`;
  defs.append('linearGradient').attr('id', id)
    .attr('gradientUnits', 'userSpaceOnUse')
    .attr('x1', 0).attr('x2', 0).attr('y1', p.barTop).attr('y2', p.barBottom)
    .selectAll('stop').data(d3.range(0, 1.001, 0.02)).join('stop')
    .attr('offset', d => d).attr('stop-color', d => palette(1 - d));
  g.append('path')
    .attr('d', line([[x0,p.barTop],[x0+7,p.barTop-4],[x1-7,p.barTop-4],[x1,p.barTop],[x1,p.barBottom],[x1-7,p.barBottom+4],[x0+7,p.barBottom+4],[x0,p.barBottom]]) + 'Z')
    .attr('fill', `url(#${id})`).attr('stroke', '#e8c8a0').attr('stroke-width', 0.6);
  p.barTicks.forEach(v => {
    g.append('path').attr('stroke', '#222').attr('stroke-width', 1.2)
      .attr('d', `M${x0},${bar(v)}h5M${x1-5},${bar(v)}h5`);
  });
  g.selectAll('.barlab').data(p.labelVals).join('text').attr('class', 'barlab')
    .attr('x', x1 + 3)
    .attr('y', d => Math.max(bar(d), p.top + (p.key === 'nn' ? 0 : 5)))
    .attr('dominant-baseline', 'central').attr('font-size', 22)
    .text((d, j) => p.labelText[j]);
}

function drawLabelBox(g, p) {
  g.append('rect').attr('x', p.box[0]).attr('y', p.box[1])
    .attr('width', p.box[2] - p.box[0]).attr('height', p.box[3] - p.box[1]).attr('fill', '#fff');
}

// ---- gridded panels (T, salinity, O2)
const stopDepths = d3.range(0, 60, 5).concat(d3.range(60, 901, 30));
fieldPanels.forEach(p => {
  const g = svg.append('g').attr('class', `panel-${p.key}`);
  const y = d3.scaleLinear().domain([0, 900]).range([p.top, p.bottom]);
  const col = d3.scaleLinear().domain(p.domain).range([0, 1]).clamp(true);
  const field = g.append('g').attr('filter', 'url(#soft)');

  fieldSections.forEach((s, si) => {
    const rows = s[p.key];
    const n = rows[0].length;
    const edges = s.edges || d3.range(n + 1).map(k => s.start + (s.end - s.start) * k / n);
    d3.range(n).forEach(k => {
      const profile = d3.scaleLinear().domain(fieldDepths).range(rows.map(r => r[k])).clamp(true);
      const id = `g-${p.key}-${si}-${k}`;
      defs.append('linearGradient').attr('id', id)
        .attr('gradientUnits', 'userSpaceOnUse')
        .attr('x1', 0).attr('x2', 0).attr('y1', y(0)).attr('y2', y(900))
        .selectAll('stop').data(stopDepths).join('stop')
        .attr('offset', d => d / 900)
        .attr('stop-color', d => palette(col(profile(d))));
      field.append('rect')
        .attr('x', x(edges[k])).attr('width', x(edges[k + 1]) - x(edges[k]) + (k < n - 1 ? 0.5 : 0))
        .attr('y', y(0)).attr('height', y(s.bottom[k]) - y(0))
        .attr('fill', `url(#${id})`);
    });
  });

  if (p.key === 'oxy') {
    g.selectAll('.gap').data(oxyGaps).join('rect').attr('class', 'gap')
      .attr('x', d => x(d[0])).attr('width', d => x(d[1]) - x(d[0]))
      .attr('y', y(0)).attr('height', y(900) - y(0)).attr('fill', '#fff');
  }

  g.selectAll('.bathy').data(bathySections).join('path').attr('class', 'bathy')
    .attr('d', d => line(d.map(v => [x(v[0]), y(v[1])])) + 'Z')
    .attr('fill', '#606060').attr('stroke', '#fff').attr('stroke-width', 0.7);

  drawLabelBox(g, p);
  drawFrame(g, p);
  drawAxis(g, y, [0,300,600,900]);
  drawStationTicks(g, p, allStations);
  drawSeparators(g, p, dashedDist);
  drawOceanDataView(g, p);
  drawColorBar(g, p);
});

// ---- bottle panels (Chl a, N+N)
dotPanels.forEach(p => {
  const g = svg.append('g').attr('class', `panel-${p.key}`);
  const y = d3.scaleLinear().domain([0, 225]).range([p.top, p.bottom]);
  const col = d3.scaleLinear().domain(p.domain).range([0, 1]).clamp(true);
  const dots = g.append('g').attr('filter', 'url(#softDots)');
  const clipId = `clip-${p.key}`;
  defs.append('clipPath').attr('id', clipId).append('rect')
    .attr('x', 119).attr('y', p.top).attr('width', 694).attr('height', p.bottom - p.top);
  dots.attr('clip-path', `url(#${clipId})`);

  const samples = [];
  dotSections.forEach(s => {
    s[p.key].forEach((row, r) => row.forEach((v, k) => {
      if (v !== null) samples.push({dist: s.stations[k] + s.shift, depth: bottleDepths[r], value: v});
    }));
  });
  p.extra.forEach(e => samples.push({dist: e[0], depth: e[1], value: e[2]}));

  dots.selectAll('circle').data(samples).join('circle')
    .attr('cx', d => x(d.dist)).attr('cy', d => y(d.depth)).attr('r', 2.8)
    .attr('fill', d => palette(col(d.value)));

  const peaks = peakDist.map((d, i) => [[d - 5, 225], [d, peakDepth[i]], [d + 5, 225]]).concat([spikeG]);
  g.selectAll('.peak').data(peaks).join('path').attr('class', 'peak')
    .attr('d', d => line(d.map(v => [x(v[0]), y(v[1])])) + 'Z')
    .attr('fill', '#606060');

  drawLabelBox(g, p);
  drawFrame(g, p);
  drawAxis(g, y, [0,100,200]);
  drawStationTicks(g, p, dotSections.flatMap(s => s.stations.map(d => d + s.shift)));
  p.dash = '16 8';
  drawSeparators(g, p, dashedDist - 3);
  drawOceanDataView(g, p);
  drawColorBar(g, p);
});

// ---- panel names
function panelName(px, py, size, parts) {
  const t = svg.append('text').attr('x', px).attr('y', py).attr('text-anchor', 'end')
    .attr('font-size', size).attr('font-weight', 700);
  parts.forEach(q => {
    const s = t.append('tspan').text(q.text);
    if (q.italic) s.attr('font-style', 'italic');
    if (q.sub) s.attr('font-size', size * 0.65).attr('dy', 6);
    if (q.up) s.attr('dy', -6);
  });
}
panelName(809, 313, 29, [{text: 'T (°C)'}]);
panelName(805, 606, 27, [{text: 'Salinity'}]);
panelName(810, 897, 28, [{text: 'O'}, {text: '2', sub: true}, {text: ' (mL/L)', up: true}]);
panelName(807, 1052, 28, [{text: 'Chl '}, {text: 'a', italic: true}, {text: ' (μg/L)'}]);
panelName(810, 1207, 27.5, [{text: 'N+N (μM)'}]);

// ---- titles
svg.append('text').attr('x', 466).attr('y', 31).attr('text-anchor', 'middle')
  .attr('font-size', 27.5).attr('font-weight', 700).text('Station number');
svg.append('text').attr('transform', 'translate(42,637) rotate(-90)').attr('text-anchor', 'middle')
  .attr('font-size', 35).attr('font-weight', 700).text('Depth (m)');
svg.selectAll('.stn').data(stationLabels).join('text').attr('class', 'stn')
  .attr('x', (d, i) => x(stationLabelDist[i]) - stationLabelWidth[i] / 2).attr('y', 64)
  .attr('textLength', (d, i) => stationLabelWidth[i]).attr('lengthAdjust', 'spacingAndGlyphs')
  .attr('font-size', 18).attr('font-weight', 700).text(d => d);
svg.selectAll('.letter').data(sectionLetters).join('text').attr('class', 'letter')
  .attr('x', (d, i) => x(letterDist[i])).attr('y', 1253).attr('text-anchor', 'middle')
  .attr('font-size', 27).attr('font-weight', 700).text(d => d);
</script>
</body>
</html>
